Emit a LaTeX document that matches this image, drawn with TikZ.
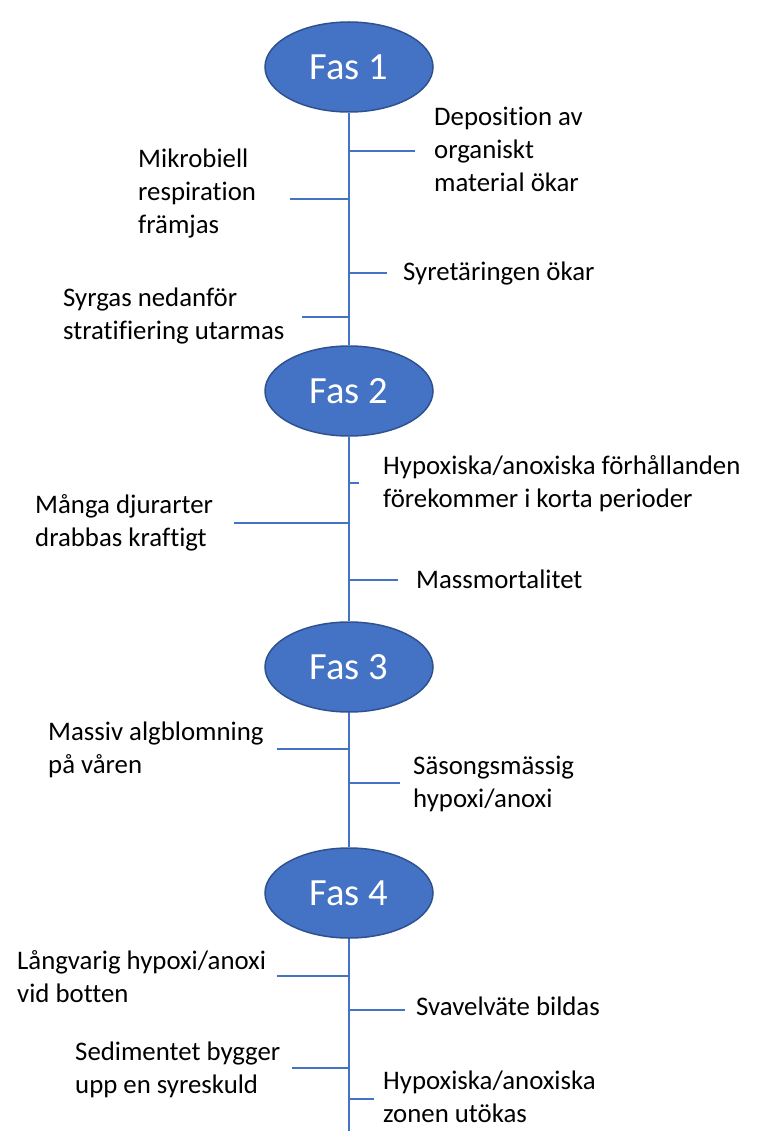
\documentclass[tikz,border=0pt]{standalone}
\usepackage{fontspec}
\setmainfont{Carlito}[Ligatures={NoCommon}]
\usetikzlibrary{shapes.geometric,positioning}
\definecolor{fasblue}{HTML}{4472C4}
\definecolor{fasedge}{HTML}{2F528F}
\tikzset{
  fas/.style={ellipse,draw=fasedge,line width=1.5pt,fill=fasblue,text=white,
              minimum width=168pt,minimum height=90pt,inner sep=0pt,
              font=\fontsize{38.5}{44}\selectfont},
  event/.style={anchor=west,align=left,inner sep=0pt,
                font=\fontsize{26.8}{33}\selectfont},
  spine/.style={draw=fasblue,line width=1.2pt},
  branch/.style={draw=fasblue,line width=1.2pt},
}

\begin{document}
\begin{tikzpicture}[x=1pt,y=-1pt]
  \useasboundingbox (0,0) rectangle (760,1131);

  \node[fas] (fas1) at (349,67) {Fas 1};
  \node[fas] (fas2) at (349,391) {Fas 2};
  \node[fas] (fas3) at (349,667) {Fas 3};
  \node[fas] (fas4) at (349,893) {Fas 4};
  \coordinate (bottom) at (349,1131);

  \draw[spine] (fas1) -- (fas2);
  \draw[spine] (fas2) -- (fas3);
  \draw[spine] (fas3) -- (fas4);
  \draw[spine] (fas4) -- (bottom);

  % fas 1
  \node[event] (depo) at (434,149) {Deposition av\\organiskt\\material ökar};
  \coordinate (depo-a) at (349,151);
  \coordinate (depo-b) at (415,151);
  \draw[branch] (depo-a) -- (depo-b);

  \node[event] (mikro) at (138,193) {Mikrobiell\\respiration\\främjas};
  \coordinate (mikro-a) at (349,199);
  \coordinate (mikro-b) at (290,199);
  \draw[branch] (mikro-a) -- (mikro-b);

  \node[event] (syretar) at (403,273) {Syretäringen ökar};
  \coordinate (syretar-a) at (349,273);
  \coordinate (syretar-b) at (387,273);
  \draw[branch] (syretar-a) -- (syretar-b);

  \node[event] (syrgas) at (63,316) {Syrgas nedanför\\stratifiering utarmas};
  \coordinate (syrgas-a) at (349,317);
  \coordinate (syrgas-b) at (302,317);
  \draw[branch] (syrgas-a) -- (syrgas-b);

  % fas 2
  \node[event] (hypo) at (383,484) {Hypoxiska/anoxiska förhållanden\\förekommer i korta perioder};
  \coordinate (hypo-a) at (349,483);
  \coordinate (hypo-b) at (359,483);
  \draw[branch] (hypo-a) -- (hypo-b);

  \node[event] (djur) at (35,523) {Många djurarter\\drabbas kraftigt};
  \coordinate (djur-a) at (349,523);
  \coordinate (djur-b) at (234,523);
  \draw[branch] (djur-a) -- (djur-b);

  \node[event] (mass) at (416,579) {Massmortalitet};
  \coordinate (mass-a) at (349,580);
  \coordinate (mass-b) at (398,580);
  \draw[branch] (mass-a) -- (mass-b);

  % fas 3
  \node[event] (alg) at (48,750) {Massiv algblomning\\på våren};
  \coordinate (alg-a) at (349,749);
  \coordinate (alg-b) at (277,749);
  \draw[branch] (alg-a) -- (alg-b);

  \node[event] (sason) at (413,784) {Säsongsmässig\\hypoxi/anoxi};
  \coordinate (sason-a) at (349,783);
  \coordinate (sason-b) at (400,783);
  \draw[branch] (sason-a) -- (sason-b);

  % fas 4
  \node[event] (langv) at (17,977) {Långvarig hypoxi/anoxi\\vid botten};
  \coordinate (langv-a) at (349,976);
  \coordinate (langv-b) at (277,976);
  \draw[branch] (langv-a) -- (langv-b);

  \node[event] (svavel) at (416,1006) {Svavelväte bildas};
  \coordinate (svavel-a) at (349,1010);
  \coordinate (svavel-b) at (405,1010);
  \draw[branch] (svavel-a) -- (svavel-b);

  \node[event] (sedim) at (75,1070) {Sedimentet bygger\\upp en syreskuld};
  \coordinate (sedim-a) at (349,1068);
  \coordinate (sedim-b) at (292,1068);
  \draw[branch] (sedim-a) -- (sedim-b);

  \node[event] (zon) at (383,1097) {Hypoxiska/anoxiska\\zonen utökas};
  \coordinate (zon-a) at (349,1099);
  \coordinate (zon-b) at (374,1099);
  \draw[branch] (zon-a) -- (zon-b);
\end{tikzpicture}
\end{document}
